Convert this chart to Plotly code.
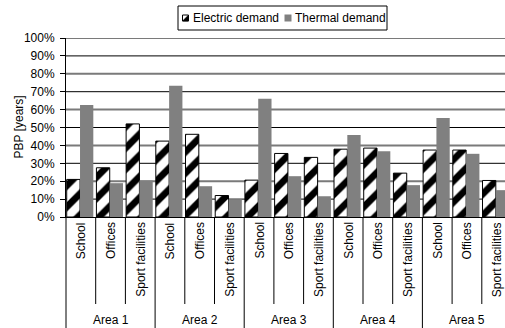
import plotly.graph_objects as go

# ---- data -------------------------------------------------------------
areas = ["Area 1", "Area 2", "Area 3", "Area 4", "Area 5"]
building_types = ["School", "Offices", "Sport facilities"]
electric_pbp = [21.0, 27.5, 52.0,
                42.4, 46.2, 12.0,
                20.6, 35.5, 33.3,
                37.9, 38.5, 24.5,
                37.4, 37.4, 20.4]
thermal_pbp = [62.6, 18.9, 20.4,
               73.3, 17.2, 9.9,
               66.0, 22.8, 11.6,
               45.8, 36.8, 17.8,
               55.3, 35.3, 15.0]
y_ticks = [0, 10, 20, 30, 40, 50, 60, 70, 80, 90, 100]
y_tick_labels = ["0%", "10%", "20%", "30%", "40%", "50%",
                 "60%", "70%", "80%", "90%", "100%"]
series_names = ["Electric demand", "Thermal demand"]

# ---- geometry ---------------------------------------------------------
W, H = 505, 328
M_L, M_R, M_T, M_B = 66, 0, 38, 111
PW, PH = W - M_L - M_R, H - M_T - M_B
CAT_PX = 29.7                      # pixel width of one category slot
X_LO = -0.472                      # left edge of the first slot (bar centre = 0)
X_HI = X_LO + PW / CAT_PX

FONT = "Liberation Sans, Arial, sans-serif"


def px_x(p):
    """pixel column -> paper x"""
    return (p - M_L) / PW


def px_y(p):
    """pixel row -> paper y"""
    return (M_T + PH - p) / PH


n_types = len(building_types)
positions = list(range(len(areas) * n_types))

fig = go.Figure()
fig.add_trace(go.Bar(
    x=positions, y=electric_pbp, name=series_names[0],
    marker=dict(color="white",
                line=dict(color="black", width=1),
                pattern=dict(shape="/", fgcolor="#000000", bgcolor="white",
                             fgopacity=1, size=15, solidity=0.45)),
))
fig.add_trace(go.Bar(
    x=positions, y=thermal_pbp, name=series_names[1],
    marker=dict(color="#808080", line=dict(width=0)),
))

shapes = []
# horizontal gridlines
for v in y_ticks[1:]:
    even = (v // 10) % 2 == 0
    shapes.append(dict(type="line", xref="paper", yref="y", x0=0, x1=1, y0=v, y1=v,
                       line=dict(color="#7a7a7a" if even else "black",
                                 width=2 if even else 1),
                       layer="below"))

# category dividers below the axis
inner_bottom = px_y(304)
outer_bottom = px_y(H + 2)
for k in range(1, len(positions)):
    is_area_edge = k % n_types == 0
    shapes.append(dict(type="line", xref="x", yref="paper",
                       x0=k + X_LO, x1=k + X_LO, y0=0,
                       y1=outer_bottom if is_area_edge else inner_bottom,
                       line=dict(color="black", width=1)))
# axis line continued down through the label area
shapes.append(dict(type="line", xref="paper", yref="paper", x0=0, x1=0,
                   y0=0, y1=outer_bottom, line=dict(color="black", width=1)))

annotations = []
# building type labels (rotated)
for k in positions:
    annotations.append(dict(
        x=k + X_LO + 0.5, xref="x", y=px_y(221), yref="paper",
        text=building_types[k % n_types], textangle=-90, showarrow=False,
        xanchor="center", yanchor="top", borderpad=0,
        font=dict(size=12, color="black", family=FONT)))
# area labels
for a, area in enumerate(areas):
    annotations.append(dict(
        x=a * n_types + X_LO + n_types / 2, xref="x", y=px_y(320), yref="paper",
        text=area, showarrow=False, xanchor="center", yanchor="middle",
        font=dict(size=12, color="black", family=FONT)))
# y-axis title
annotations.append(dict(
    x=px_x(18), xref="paper", y=0.5, yref="paper", text="PBP [years]",
    textangle=-90, showarrow=False, xanchor="center", yanchor="middle",
    font=dict(size=12, color="black", family=FONT)))

# legend box drawn by hand
shapes.append(dict(type="rect", xref="paper", yref="paper",
                   x0=px_x(178), x1=px_x(387), y0=px_y(6), y1=px_y(30),
                   line=dict(color="black", width=1), fillcolor="white"))
# electric icon: white square with black lower-right half
ex0, ex1, ey0, ey1 = px_x(182.5), px_x(188.5), px_y(21), px_y(15)
shapes.append(dict(type="rect", xref="paper", yref="paper",
                   x0=ex0, x1=ex1, y0=ey0, y1=ey1,
                   line=dict(color="black", width=1), fillcolor="white"))
shapes.append(dict(type="path", xref="paper", yref="paper",
                   path=f"M {ex0},{ey0} L {ex1},{ey0} L {ex1},{ey1} Z",
                   line=dict(color="black", width=0.5), fillcolor="black"))
# thermal icon
shapes.append(dict(type="rect", xref="paper", yref="paper",
                   x0=px_x(284.5), x1=px_x(291.5), y0=px_y(21.5), y1=px_y(14.5),
                   line=dict(width=0), fillcolor="#808080"))
annotations.append(dict(x=px_x(191), xref="paper", y=px_y(18), yref="paper",
                        text=series_names[0], showarrow=False, xanchor="left",
                        yanchor="middle", font=dict(size=12, color="black", family=FONT)))
annotations.append(dict(x=px_x(293), xref="paper", y=px_y(18), yref="paper",
                        text=series_names[1], showarrow=False, xanchor="left",
                        yanchor="middle", font=dict(size=12, color="black", family=FONT)))

fig.update_layout(
    width=W, height=H,
    margin=dict(l=M_L, r=M_R, t=M_T, b=M_B, pad=0),
    paper_bgcolor="white", plot_bgcolor="white",
    barmode="group", bargap=0.104, bargroupgap=0,
    showlegend=False,
    font=dict(family=FONT, size=12, color="black"),
    xaxis=dict(range=[X_LO, X_HI], showticklabels=False, showgrid=False,
               zeroline=False, showline=True, linecolor="black", linewidth=1,
               ticks=""),
    yaxis=dict(range=[0, 100], tickmode="array", tickvals=y_ticks,
               ticktext=y_tick_labels,
               showgrid=False, zeroline=False, showline=True, linecolor="black",
               linewidth=1, ticks="outside", ticklen=5, tickcolor="black",
               ticklabelstandoff=3, tickfont=dict(size=12, color="black", family=FONT)),
    shapes=shapes, annotations=annotations,
)

fig.write_html("out.html")
